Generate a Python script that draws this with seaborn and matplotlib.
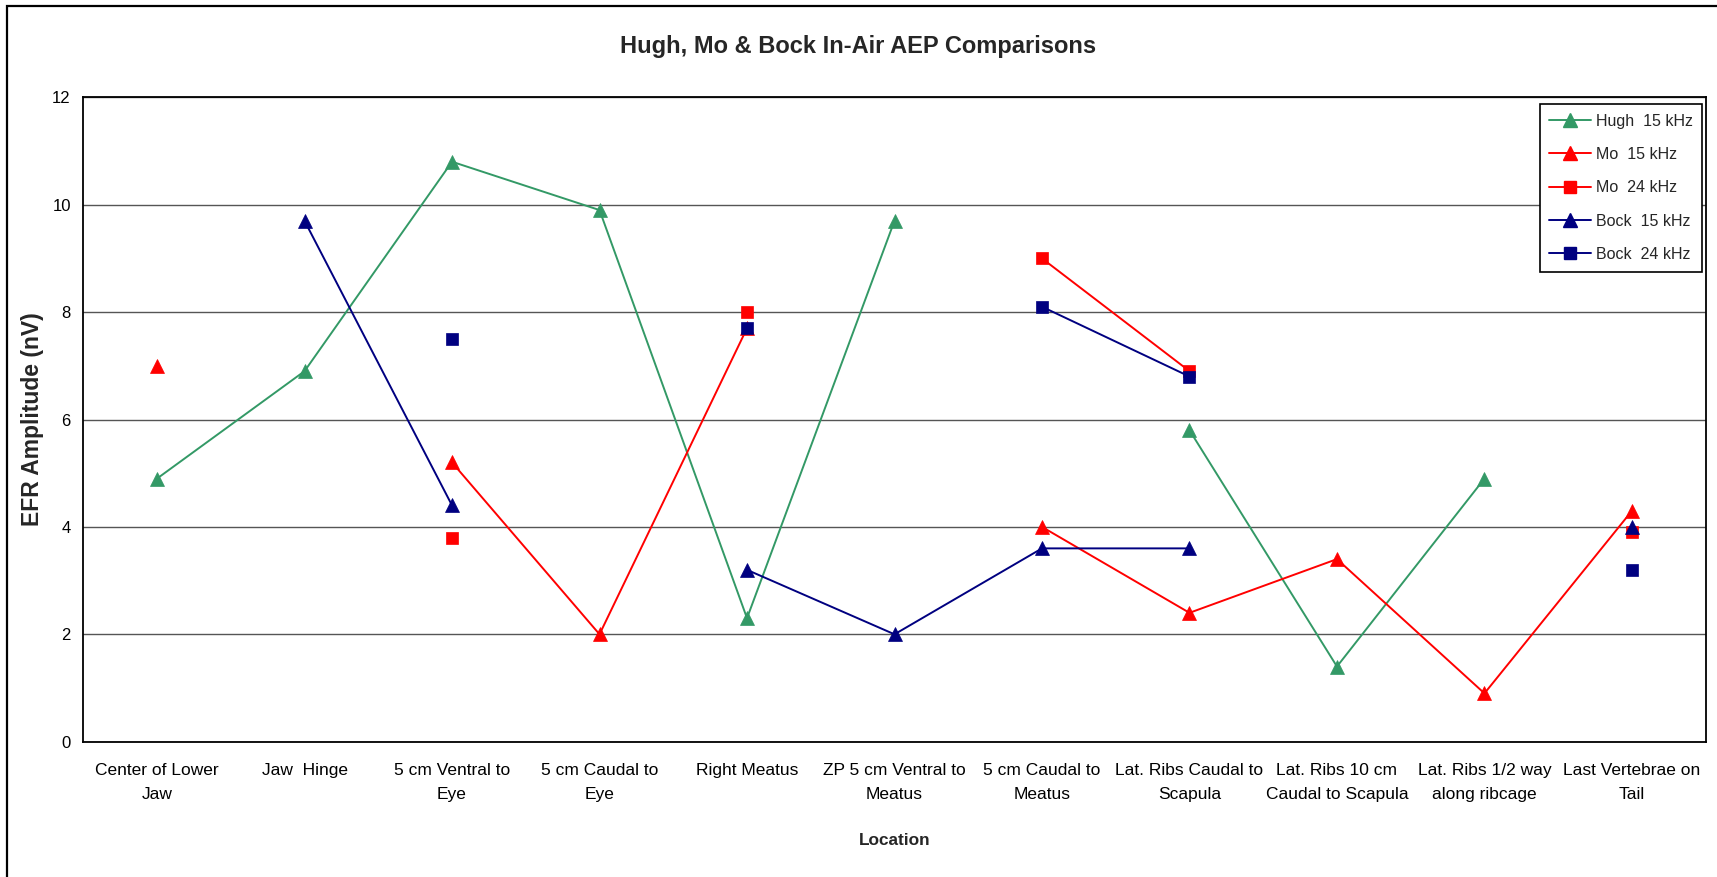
import numpy as np
import pandas as pd
import matplotlib
matplotlib.use("Agg")
import matplotlib.pyplot as plt
import matplotlib.font_manager as fm
from matplotlib.lines import Line2D
from matplotlib.patches import Rectangle
from matplotlib.ticker import FixedLocator
import seaborn as sns

nan = np.nan

# ---------------- data ----------------
categories = [
    "Center of Lower\nJaw", "Jaw  Hinge", "5 cm Ventral to\nEye", "5 cm Caudal to\nEye",
    "Right Meatus", "ZP 5 cm Ventral to\nMeatus", "5 cm Caudal to\nMeatus",
    "Lat. Ribs Caudal to\nScapula", "Lat. Ribs 10 cm\nCaudal to Scapula",
    "Lat. Ribs 1/2 way\nalong ribcage", "Last Vertebrae on\nTail",
]
series_names = ["Hugh  15 kHz", "Mo  15 kHz", "Mo  24 kHz", "Bock  15 kHz", "Bock  24 kHz"]
hugh_15 = [4.9, 6.9, 10.8, 9.9, 2.3, 9.7, nan, 5.8, 1.4, 4.9, nan]
mo_15 = [7.0, nan, 5.2, 2.0, 7.7, nan, 4.0, 2.4, 3.4, 0.9, 4.3]
mo_24 = [nan, nan, 3.8, nan, 8.0, nan, 9.0, 6.9, nan, nan, 3.9]
bock_15 = [nan, 9.7, 4.4, nan, 3.2, 2.0, 3.6, 3.6, nan, nan, 4.0]
bock_24 = [nan, nan, 7.5, nan, 7.7, nan, 8.1, 6.8, nan, nan, 3.2]
y_ticks = [0, 2, 4, 6, 8, 10, 12]

series_values = [hugh_15, mo_15, mo_24, bock_15, bock_24]
colors = {"Hugh  15 kHz": "#339966", "Mo  15 kHz": "#FF0000", "Mo  24 kHz": "#FF0000",
          "Bock  15 kHz": "#000080", "Bock  24 kHz": "#000080"}
markers = {"Hugh  15 kHz": "^", "Mo  15 kHz": "^", "Mo  24 kHz": "s",
           "Bock  15 kHz": "^", "Bock  24 kHz": "s"}

# long table with contiguous segments (gaps where value missing)
rows = []
for name, vals in zip(series_names, series_values):
    seg = 0
    prev_nan = True
    for i, v in enumerate(vals):
        if np.isnan(v):
            prev_nan = True
            continue
        if prev_nan:
            seg += 1
        prev_nan = False
        rows.append({"series": name, "pos": i, "value": v, "seg": f"{name}-{seg}"})
df = pd.DataFrame(rows)

# ---------------- fonts ----------------
sns.set_style("white")
names = {f.name for f in fm.fontManager.ttflist}
if "Liberation Sans Narrow" in names:
    fam = "Liberation Sans Narrow"
    fs_tick, fs_ytick, fs_leg, fs_xlab, fs_ylab, fs_title = 14, 14, 13, 15, 16.5, 20
else:
    fam = "Liberation Sans"
    fs_tick, fs_ytick, fs_leg, fs_xlab, fs_ylab, fs_title = 12.5, 12, 11.5, 12.4, 16.5, 17
plt.rcParams["font.family"] = [fam, "DejaVu Sans"]

W, H = 1717, 877
fig = plt.figure(figsize=(W / 100, H / 100), dpi=100)
ax = fig.add_axes([83.3 / W, 1 - 741.7 / H, (1705.7 - 83.3) / W, (741.7 - 97.3) / H])

sns.lineplot(data=df, x="pos", y="value", hue="series", style="series", units="seg",
             estimator=None, sort=False, hue_order=series_names, style_order=series_names,
             palette=colors, markers=markers, dashes=False, legend=False,
             linewidth=1.4, markersize=10, ax=ax)
for ln in ax.lines:
    ln.set_markeredgecolor(ln.get_color())
    ln.set_markeredgewidth(0.5)
    if ln.get_marker() == "s":
        ln.set_markersize(8.6)

ax.set_xlim(-0.5, len(categories) - 0.5)
ax.set_ylim(0, 12)
ax.set_yticks(y_ticks)
ax.set_yticklabels([str(t) for t in y_ticks], fontsize=fs_ytick)
ax.set_xticks(range(len(categories)))
ax.set_xticklabels(categories, fontsize=fs_tick, linespacing=1.75)
ax.xaxis.set_minor_locator(FixedLocator(np.arange(-0.5, len(categories), 1.0)))
ax.tick_params(axis="x", which="major", length=0, pad=15, colors="black")
ax.tick_params(axis="x", which="minor", length=4, width=1, direction="out", color="black")
ax.tick_params(axis="y", which="major", length=4, width=1, direction="out", pad=5, colors="black")

ax.yaxis.grid(True, color="#555555", linewidth=1.0)
ax.xaxis.grid(False)
ax.set_axisbelow(True)
for side in ["left", "bottom", "top", "right"]:
    ax.spines[side].set_visible(True)
    ax.spines[side].set_color("black")
    ax.spines[side].set_linewidth(1.3)

ax.set_xlabel("Location", fontsize=fs_xlab, fontweight="bold")
ax.xaxis.set_label_coords(0.5, -0.142)
ax.set_ylabel("EFR Amplitude (nV)", fontsize=fs_ylab, fontweight="bold")
ax.yaxis.set_label_coords(-0.0245, 0.5)

fig.text(0.5, 1 - 46 / H, "Hugh, Mo & Bock In-Air AEP Comparisons", ha="center", va="center",
         fontsize=fs_title, fontweight="bold")

handles = [Line2D([0], [0], color=colors[n], marker=markers[n], lw=1.4,
                  markersize=10 if markers[n] == "^" else 8.6,
                  markeredgecolor=colors[n]) for n in series_names]
leg = ax.legend(handles, series_names, loc="upper right",
                bbox_to_anchor=((1702 - 83.3) / 1622.4, (741.7 - 104) / 644.4),
                borderaxespad=0, fontsize=fs_leg, frameon=True, fancybox=False,
                edgecolor="black", framealpha=1, handlelength=30 / fs_leg,
                handletextpad=0.3, labelspacing=1.15, borderpad=0.6)
leg.get_frame().set_linewidth(1.2)

# outer chart border
fig.patches.append(Rectangle((7.3 / W, -0.05), 1.2, 1.05 - 6 / H, transform=fig.transFigure,
                             fill=False, edgecolor="black", linewidth=1.6))

fig.savefig("out.png", dpi=100)
